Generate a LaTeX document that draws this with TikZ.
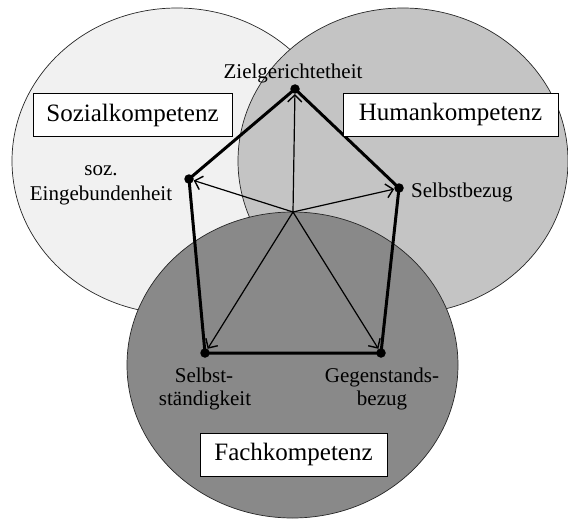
\documentclass[tikz,border=0pt]{standalone}
\usepackage{fontspec}
\setmainfont{Liberation Serif}
\usetikzlibrary{arrows.meta}
\definecolor{lightc}{HTML}{F1F1F1}
\definecolor{midc}{HTML}{C4C4C4}
\definecolor{darkc}{HTML}{898989}
\begin{document}
\begin{tikzpicture}[x=1pt,y=-1pt,
  zone/.style={draw=black!85,line width=0.7pt},
  spoke/.style={line width=1.2pt,-{Straight Barb[length=7pt,width=14pt,line width=1.4pt]}},
  edgeline/.style={line width=3pt,line cap=round,line join=round},
  dot/.style={circle,fill=black,inner sep=0pt,minimum size=9.5pt},
  lab/.style={font=\fontsize{21}{24}\selectfont,inner sep=0pt},
  titlebox/.style={draw=black,line width=0.9pt,fill=white,font=\fontsize{25}{28}\selectfont,inner sep=0pt,minimum height=43pt}
]
\useasboundingbox (0,0) rectangle (568,519);
\fill[white] (0,0) rectangle (568,519);

% three competence areas
\draw[zone,fill=lightc] (177,161) ellipse [x radius=165pt,y radius=153pt];
\draw[zone,fill=midc]   (403,161) ellipse [x radius=165pt,y radius=153pt];
\draw[zone,fill=darkc]  (292.5,365) ellipse [x radius=165.5pt,y radius=153pt];

% vertices
\coordinate (C) at (293,212);
\node[dot] (T)  at (295,89)  {};
\node[dot] (L)  at (189,179) {};
\node[dot] (R)  at (399,188) {};
\node[dot] (BL) at (205,353) {};
\node[dot] (BR) at (381,353) {};

% spokes
\draw[spoke] (C) -- (T);
\draw[spoke] (C) -- (L);
\draw[spoke] (C) -- (R);
\draw[spoke] (C) -- (BL);
\draw[spoke] (C) -- (BR);

% pentagon
\draw[edgeline] (T.center) -- (L.center) -- (BL.center) -- (BR.center) -- (R.center) -- cycle;

% labels
\node[lab,anchor=base] (zg) at (293,78) {Zielgerichtetheit};
\node[lab,anchor=base] (soz) at (101,175) {soz.};
\node[lab,anchor=base] (ein) at (101,200) {Eingebundenheit};
\node[lab,anchor=base west] (sb) at (411,197) {Selbstbezug};
\node[lab,anchor=base] (ss1) at (204,382) {Selbst-};
\node[lab,anchor=base] (ss2) at (205,405) {ständigkeit};
\node[lab,anchor=base] (gb1) at (382,382) {Gegenstands-};
\node[lab,anchor=base] (gb2) at (382,405) {bezug};

% titles
\node[titlebox,minimum width=199pt] (sozk) at (132.5,115) {Sozialkompetenz};
\node[titlebox,minimum width=215pt] (humk) at (450.5,114.5) {Humankompetenz};
\node[titlebox,minimum width=187pt] (fachk) at (293.5,454.5) {Fachkompetenz};
\end{tikzpicture}
\end{document}
